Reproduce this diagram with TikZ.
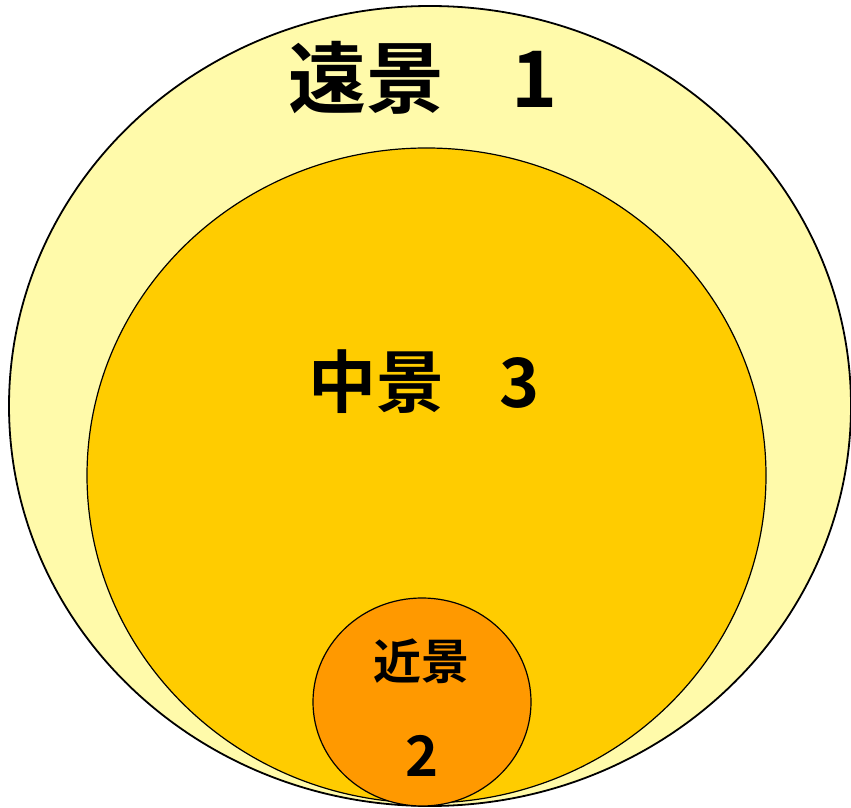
\documentclass[tikz,border=0pt]{standalone}
\usepackage{fontspec}
\newfontfamily\cjk{Noto Sans CJK JP Bold}
\definecolor{farfill}{RGB}{255,250,170}
\definecolor{midfill}{RGB}{255,204,0}
\definecolor{nearfill}{RGB}{255,153,0}
\begin{document}
\begin{tikzpicture}[x=1pt,y=1pt,
  ring/.style={draw=black,line width=1.2pt},
  lbl/.style={font=\cjk,text=black,inner sep=0pt}]
\useasboundingbox (0,0) rectangle (851,807);
\begin{scope}
\clip (0,0) rectangle (851,807);
\filldraw[ring,line width=1.8pt,fill=farfill] (430,401) ellipse [x radius=421, y radius=400];
\filldraw[ring,fill=midfill] (426.5,331.5) ellipse [x radius=339.5, y radius=327.5];
\filldraw[ring,fill=nearfill] (422,105) ellipse [x radius=109, y radius=104];
\end{scope}
\node[lbl,font=\cjk\fontsize{78}{78}\selectfont] (far) at (423,729) {遠景\hspace{0.85em}1};
\node[lbl,font=\cjk\fontsize{68}{68}\selectfont] (mid) at (424,425) {中景\hspace{0.8em}3};
\node[lbl,font=\cjk\fontsize{48}{48}\selectfont] (near) at (421,146) {近景};
\node[lbl,font=\cjk\fontsize{56}{56}\selectfont] (two) at (422,51) {2};
\end{tikzpicture}
\end{document}
